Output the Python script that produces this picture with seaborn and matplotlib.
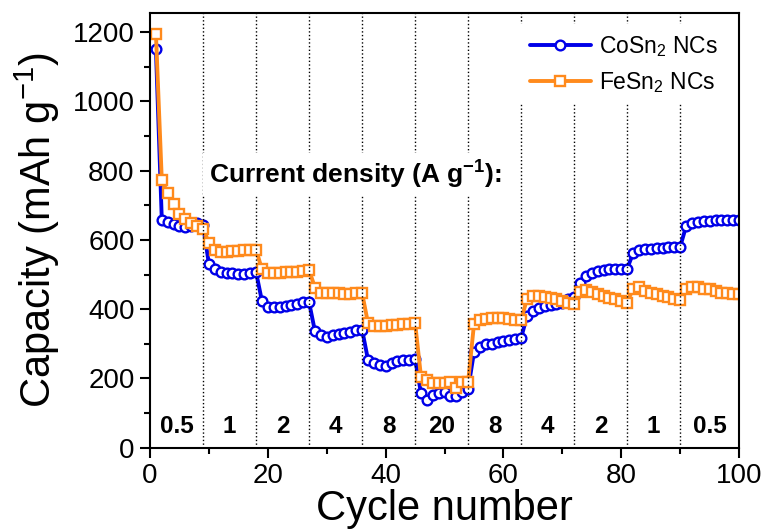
import numpy as np
import pandas as pd
import matplotlib
matplotlib.use('Agg')
import matplotlib.pyplot as plt
import seaborn as sns

# cycle numbers 1..100, rate steps of 9 cycles (last one 10)
cycles = list(range(1, 101))

cosn2 = [1150, 658, 652, 646, 640, 638, 640, 648, 642,
         530, 515, 508, 505, 503, 502, 502, 503, 507,
         423, 407, 405, 407, 410, 413, 416, 420, 420,
         336, 324, 320, 326, 328, 331, 335, 340, 341,
         254, 245, 240, 235, 245, 250, 253, 254, 256,
         157, 139, 153, 159, 162, 148, 148, 162, 169,
         276, 290, 298, 300, 305, 307, 311, 314, 317,
         380, 396, 404, 409, 411, 415, 419, 428, 434,
         476, 496, 505, 510, 513, 515, 515, 516, 517,
         561, 571, 575, 575, 577, 577, 578, 579, 580,
         639, 648, 652, 654, 655, 656, 656, 656, 656, 656]

fesn2 = [1195, 772, 735, 703, 675, 660, 648, 641, 632,
         592, 571, 566, 565, 568, 567, 570, 570, 572,
         515, 503, 505, 505, 507, 508, 508, 510, 513,
         462, 447, 446, 446, 446, 445, 445, 447, 447,
         360, 351, 351, 352, 355, 355, 357, 357, 360,
         205, 196, 187, 186, 187, 190, 172, 190, 190,
         357, 370, 372, 374, 375, 375, 372, 370, 368,
         430, 438, 437, 435, 432, 428, 423, 419, 414,
         449, 455, 449, 443, 438, 433, 428, 423, 419,
         459, 465, 452, 448, 443, 438, 436, 430, 426,
         457, 465, 464, 459, 457, 452, 448, 447, 445, 443]

step_ends = [9, 18, 27, 36, 45, 54, 63, 72, 81, 90]
rate_labels = ['0.5', '1', '2', '4', '8', '20', '8', '4', '2', '1', '0.5']
rate_pos = [4.5, 13.5, 22.5, 31.5, 40.5, 49.5, 58.5, 67.5, 76.5, 85.5, 95]

df = pd.DataFrame({'cycle': cycles, 'CoSn2': cosn2, 'FeSn2': fesn2})

sns.set_style('ticks')
plt.rcParams['font.family'] = ['Liberation Sans', 'DejaVu Sans']
plt.rcParams['mathtext.fontset'] = 'custom'
plt.rcParams['mathtext.rm'] = 'Liberation Sans'
plt.rcParams['mathtext.it'] = 'Liberation Sans:italic'
plt.rcParams['mathtext.bf'] = 'Liberation Sans:bold'
for k in ['text.color', 'axes.labelcolor', 'xtick.color', 'ytick.color', 'axes.edgecolor']:
    plt.rcParams[k] = 'black'

fig = plt.figure(figsize=(7.67, 5.31), dpi=100)
ax = fig.add_axes([0.1956, 0.1569, 0.768, 0.8186])

blue = '#0000e8'
orange = '#ff8a1c'

sns.lineplot(data=df, x='cycle', y='CoSn2', ax=ax, color=blue, lw=2.8,
             marker='o', markersize=7, markerfacecolor='white',
             markeredgecolor=blue, markeredgewidth=1.7,
             label='CoSn$_2$ NCs', zorder=2)
sns.lineplot(data=df, x='cycle', y='FeSn2', ax=ax, color=orange, lw=2.8,
             marker='s', markersize=6.5, markerfacecolor='white',
             markeredgecolor=orange, markeredgewidth=1.7,
             label='FeSn$_2$ NCs', zorder=2)

for xv in step_ends:
    ax.axvline(xv, color='black', ls=':', lw=1.0, zorder=3)

for xp, lab in zip(rate_pos, rate_labels):
    ax.text(xp, 60, lab, ha='center', va='center', fontsize=17.5,
            fontweight='bold', zorder=4)

ax.text(10.0, 789, r'Current density (A g$^{\mathbf{-1}}$):', ha='left',
        va='center', fontsize=19, fontweight='bold', zorder=4,
        bbox=dict(facecolor='white', edgecolor='none', pad=4))

ax.set_xlim(0, 100)
ax.set_ylim(0, 1255)
ax.set_xticks([0, 20, 40, 60, 80, 100])
ax.set_xticks([10, 30, 50, 70, 90], minor=True)
ax.set_yticks([0, 200, 400, 600, 800, 1000, 1200])
ax.set_yticks([100, 300, 500, 700, 900, 1100], minor=True)
ax.tick_params(which='major', length=7, width=1.5, labelsize=20,
               direction='out', pad=4)
ax.tick_params(which='minor', length=4, width=1.5, direction='out')
for sp in ax.spines.values():
    sp.set_visible(True)
    sp.set_linewidth(1.5)
    sp.set_color('black')

ax.set_xlabel('Cycle number', fontsize=30, labelpad=0)
ax.set_ylabel('Capacity (mAh g$^{-1}$)', fontsize=30, labelpad=8)

leg = ax.legend(loc='upper right', fontsize=16.5, handlelength=2.7,
                frameon=True, facecolor='white', edgecolor='none',
                framealpha=1, fancybox=False, borderaxespad=0.5,
                labelspacing=0.5, handletextpad=0.35)
leg.set_zorder(5)

fig.savefig('out.png', dpi=100)
